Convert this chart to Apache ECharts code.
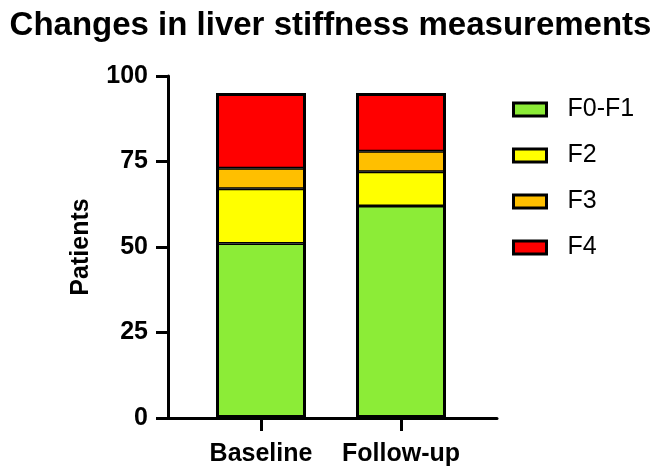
<!DOCTYPE html>
<html>
<head>
<meta charset="utf-8">
<style>html,body{margin:0;padding:0;background:#fff}#c{width:661px;height:473px}</style>
<script src="https://cdn.jsdelivr.net/npm/echarts@6/dist/echarts.min.js"></script>
</head>
<body>
<div id="c"></div>
<script>
const categories = ['Baseline', 'Follow-up'];
const seriesNames = ['F0-F1', 'F2', 'F3', 'F4'];
const f0f1 = [51, 62];
const f2 = [16, 10];
const f3 = [6, 6];
const f4 = [22, 17];
const yTicks = [0, 25, 50, 75, 100];

const colors = ['#8CEC37', '#FFFF00', '#FFBF00', '#FF0000'];
const values = [f0f1, f2, f3, f4];
const totals = categories.map((c, j) => values.reduce((s, arr) => s + arr[j], 0));
const FONT = '"Liberation Sans", Arial, sans-serif';

const segSeries = seriesNames.map((name, i) => ({
  name, type: 'bar', stack: 'total', barWidth: 90, barGap: '-100%',
  xAxisIndex: 1, yAxisIndex: 1,
  itemStyle: {color: colors[i], borderColor: '#000', borderWidth: 1.5},
  data: values[i]
}));
const outlineSeries = {
  name: 'outline', type: 'bar', barWidth: 90, barGap: '-100%',
  xAxisIndex: 1, yAxisIndex: 1, z: 3, silent: true,
  itemStyle: {color: 'rgba(0,0,0,0)', borderColor: '#000', borderWidth: 3},
  data: totals
};

const chart = echarts.init(document.getElementById('c'), null, {renderer: 'canvas'});
chart.setOption({
  animation: false,
  backgroundColor: '#fff',
  title: {
    text: 'Changes in liver stiffness measurements',
    left: 'center', top: 4,
    textStyle: {fontFamily: FONT, fontWeight: 'bold', fontSize: 33, color: '#000'}
  },
  legend: {
    orient: 'vertical', left: 512, top: 97, padding: 0,
    itemWidth: 33, itemHeight: 13, itemGap: 21,
    icon: 'rect',
    itemStyle: {borderColor: '#000', borderWidth: 3},
    textStyle: {fontFamily: FONT, fontSize: 25, color: '#000', padding: [0, 0, 0, 16]},
    data: seriesNames
  },
  grid: [
    {left: 168, right: 164, top: 76, bottom: 55},
    {left: 191, right: 190, top: 76, bottom: 55}
  ],
  xAxis: [
    {
      gridIndex: 0, type: 'value', min: 0, max: 1,
      splitLine: {show: false}, axisTick: {show: false}, axisLabel: {show: false},
      axisLine: {show: true, onZero: false, lineStyle: {color: '#000', width: 3}}
    },
    {
      gridIndex: 1, type: 'category', data: categories,
      axisLine: {show: false},
      axisTick: {show: true, interval: 0, alignWithLabel: true, length: 13, lineStyle: {color: '#000', width: 3}},
      axisLabel: {interval: 0, margin: 24, fontFamily: FONT, fontWeight: 'bold', fontSize: 25, color: '#000'}
    }
  ],
  yAxis: [
    {
      gridIndex: 0, type: 'value', min: 0, max: 100, interval: 25,
      name: 'Patients', nameLocation: 'middle', nameGap: 74,
      nameTextStyle: {fontFamily: FONT, fontWeight: 'bold', fontSize: 25, color: '#000'},
      splitLine: {show: false},
      axisLine: {show: true, onZero: false, lineStyle: {color: '#000', width: 3}},
      axisTick: {show: true, length: 12, lineStyle: {color: '#000', width: 3}},
      axisLabel: {
        margin: 20,
        formatter: v => (yTicks.indexOf(v) >= 0 ? String(v) : ''),
        fontFamily: FONT, fontWeight: 'bold', fontSize: 25, color: '#000'
      }
    },
    {
      gridIndex: 1, type: 'value', min: 0, max: 100, interval: 25,
      show: false, splitLine: {show: false}
    }
  ],
  series: segSeries.concat([outlineSeries])
});
</script>
</body>
</html>
